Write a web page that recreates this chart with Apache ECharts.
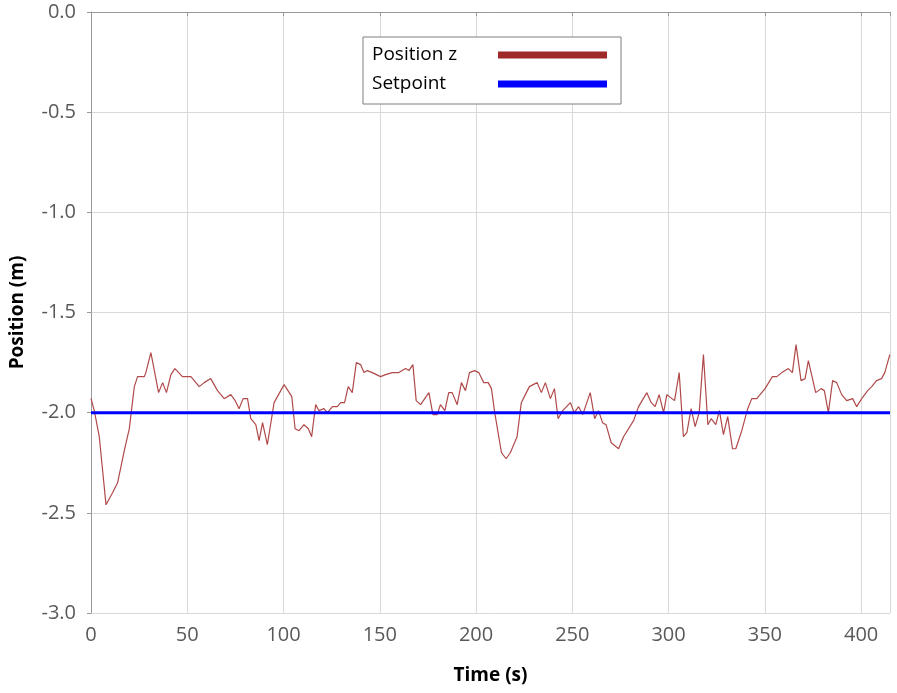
<!DOCTYPE html>
<html>
<head>
<meta charset="utf-8">
<script src="https://cdn.jsdelivr.net/npm/echarts@6/dist/echarts.min.js"></script>
<style>html,body{margin:0;padding:0;background:#fff;}#c{width:897px;height:693px;}</style>
</head>
<body>
<div id="c"></div>
<script>
const timeS = [0,1.7,4.3,7.8,11.2,13.8,17.3,19.9,22.5,24.2,27.7,28.5,31.1,35.1,37.2,39.2,41.5,43.6,47.5,51.9,56.2,58.8,62.2,65.7,69.2,72.6,74.9,76.9,79.0,81.3,83.0,85.6,87.3,89.1,91.6,95.1,100.3,104.3,106.0,108.1,110.6,112.9,114.6,116.7,118.4,121.0,122.8,125.4,127.9,129.7,131.7,133.6,135.7,137.8,140.0,141.8,143.5,146.1,150.4,153.0,156.5,159.9,163.4,165.1,167.2,168.9,171.2,175.5,177.6,179.8,181.5,183.8,185.8,187.6,190.2,192.4,194.5,196.6,199.3,201.4,204.0,206.3,208.0,209.7,213.2,215.6,217.8,221.3,223.5,225.6,227.7,231.7,233.9,236.0,238.6,240.7,242.6,245.0,249.0,251.0,253.3,255.4,259.3,261.6,263.6,265.7,267.5,270.2,274.0,276.6,281.8,284.4,288.7,291.0,293.0,295.1,297.4,299.1,303.1,305.5,307.7,309.5,311.7,313.8,315.9,318.1,320.4,322.1,324.5,326.4,328.5,330.7,333.2,334.9,338.0,341.1,343.2,345.8,350.1,353.9,356.2,358.8,362.2,364.3,366.2,368.8,370.9,372.6,376.4,379.2,380.9,383.0,385.2,387.3,389.9,392.5,395.6,397.7,400.3,403.4,405.5,408.0,410.6,412.3,414.9];
const positionZ = [-1.93,-1.99,-2.12,-2.46,-2.40,-2.35,-2.19,-2.08,-1.87,-1.82,-1.82,-1.80,-1.70,-1.90,-1.85,-1.90,-1.81,-1.78,-1.82,-1.82,-1.87,-1.85,-1.83,-1.89,-1.93,-1.91,-1.94,-1.98,-1.93,-1.93,-2.03,-2.06,-2.14,-2.05,-2.16,-1.95,-1.86,-1.92,-2.08,-2.09,-2.06,-2.08,-2.12,-1.96,-1.99,-1.98,-2.00,-1.97,-1.97,-1.95,-1.95,-1.87,-1.90,-1.75,-1.76,-1.80,-1.79,-1.80,-1.82,-1.81,-1.80,-1.80,-1.78,-1.79,-1.76,-1.94,-1.96,-1.90,-2.01,-2.01,-1.96,-1.99,-1.90,-1.90,-1.96,-1.85,-1.89,-1.80,-1.79,-1.80,-1.85,-1.85,-1.88,-2.00,-2.20,-2.23,-2.20,-2.12,-1.95,-1.91,-1.87,-1.85,-1.90,-1.85,-1.93,-1.88,-2.03,-1.99,-1.95,-2.00,-1.97,-2.01,-1.90,-2.03,-1.99,-2.05,-2.06,-2.15,-2.18,-2.12,-2.04,-1.97,-1.90,-1.95,-1.97,-1.91,-2.00,-1.91,-1.94,-1.80,-2.12,-2.10,-1.98,-2.07,-2.00,-1.71,-2.06,-2.03,-2.06,-1.99,-2.11,-2.02,-2.18,-2.18,-2.09,-1.98,-1.93,-1.93,-1.88,-1.82,-1.82,-1.80,-1.78,-1.80,-1.66,-1.84,-1.83,-1.74,-1.90,-1.88,-1.89,-2.00,-1.84,-1.85,-1.91,-1.94,-1.93,-1.97,-1.93,-1.89,-1.87,-1.84,-1.83,-1.80,-1.71];
const setpointTime = [0, 415];
const setpointValue = [-2.0, -2.0];
const xTicks = [0, 50, 100, 150, 200, 250, 300, 350, 400];

const chart = echarts.init(document.getElementById('c'), null, {renderer: 'canvas'});
const fontFam = '"Open Sans", "Noto Sans", sans-serif';
chart.setOption({
  animation: false,
  backgroundColor: '#ffffff',
  grid: {left: 90, right: 7, top: 12, bottom: 80, containLabel: false},
  legend: {
    orient: 'vertical',
    left: 363, top: 37,
    backgroundColor: '#ffffff',
    borderColor: '#7f7f7f', borderWidth: 1,
    padding: [5, 14, 7, 9],
    itemGap: 3,
    itemWidth: 109, itemHeight: 7,
    align: 'right',
    icon: 'rect',
    formatter: name => '{a|' + name + '}',
    textStyle: {
      fontFamily: fontFam, fontSize: 19, color: '#000',
      rich: {a: {fontFamily: fontFam, fontSize: 19, color: '#000', width: 121, align: 'left', height: 26, lineHeight: 26}}
    },
    data: ['Position z', 'Setpoint']
  },
  xAxis: {
    type: 'value', min: 0, max: 415, interval: 50,
    name: 'Time (s)', nameLocation: 'middle', nameGap: 53,
    nameTextStyle: {fontFamily: fontFam, fontSize: 19, fontWeight: 'bold', color: '#000'},
    axisLine: {show: true, lineStyle: {color: '#999', width: 1}},
    axisTick: {show: true, length: 4, lineStyle: {color: '#999'}},
    axisLabel: {fontFamily: fontFam, fontSize: 20, color: '#595959', margin: 12,
      formatter: v => xTicks.includes(v) ? String(v) : ''},
    splitLine: {show: true, lineStyle: {color: '#d9d9d9', width: 1}}
  },
  yAxis: {
    type: 'value', min: -3, max: 0, interval: 0.5,
    name: 'Position (m)', nameLocation: 'middle', nameGap: 64,
    nameTextStyle: {fontFamily: fontFam, fontSize: 19, fontWeight: 'bold', color: '#000'},
    axisLine: {show: true, lineStyle: {color: '#999', width: 1}},
    axisTick: {show: true, length: 4, lineStyle: {color: '#999'}},
    axisLabel: {fontFamily: fontFam, fontSize: 20, color: '#595959', margin: 15,
      formatter: v => v.toFixed(1)},
    splitLine: {show: true, lineStyle: {color: '#d9d9d9', width: 1}}
  },
  series: [
    {
      name: 'Position z', type: 'line', showSymbol: false, symbol: 'none',
      color: '#9e2a2a',
      lineStyle: {color: '#b04a4a', width: 1.2},
      data: timeS.map((t, i) => [t, positionZ[i]]),
      z: 3
    },
    {
      name: 'Setpoint', type: 'line', showSymbol: false, symbol: 'none',
      color: '#0000ff',
      lineStyle: {color: '#0000ff', width: 3},
      data: setpointTime.map((t, i) => [t, setpointValue[i]]),
      z: 4
    }
  ]
});
</script>
</body>
</html>
